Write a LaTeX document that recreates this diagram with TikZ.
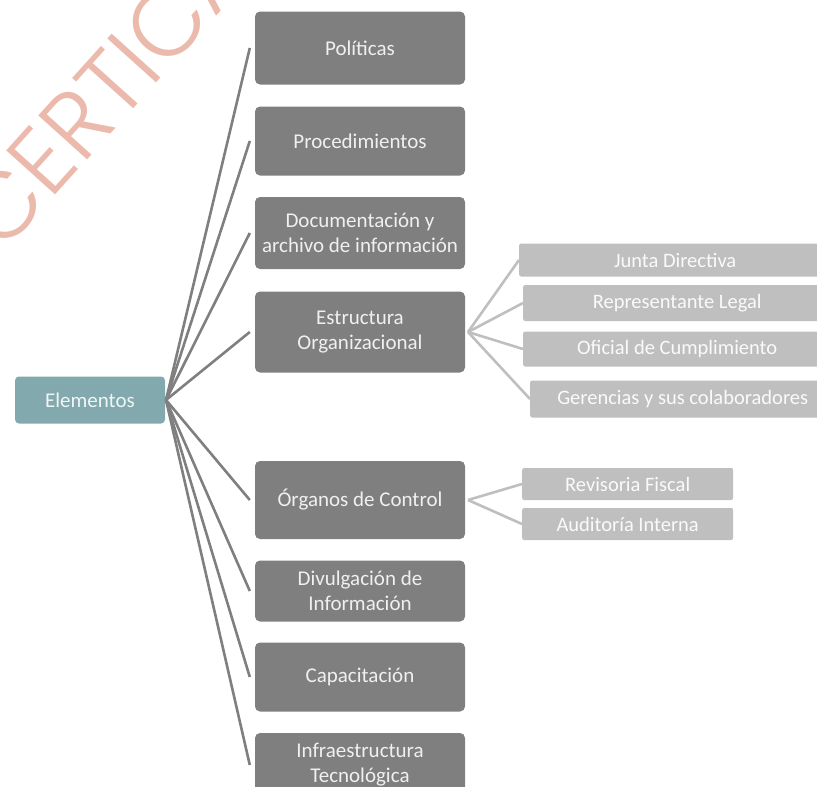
\documentclass[tikz,border=0pt]{standalone}
\usepackage{fontspec}
\setmainfont{Carlito}
\newfontfamily\markfont{Poppins Light}
\usetikzlibrary{positioning}

\definecolor{darkbox}{HTML}{7F7F7F}
\definecolor{lightbox}{HTML}{BFBFBF}
\definecolor{tealbox}{HTML}{82A9AE}
\definecolor{markpink}{HTML}{EBBAAC}

\tikzset{
  elem/.style={fill=darkbox, text=white!88!darkbox, rounded corners=5pt, minimum width=210pt, align=center, font=\fontsize{21}{25}\selectfont, inner sep=0pt},
  sub/.style={fill=lightbox, text=white!92!lightbox, rounded corners=2pt, anchor=west, font=\fontsize{20.5}{24}\selectfont, inner sep=0pt},
  link/.style={draw=darkbox, line width=2.6pt},
  sublink/.style={draw=lightbox, line width=2.6pt}
}

\begin{document}
\begin{tikzpicture}[x=1pt, y=-1pt]
            \useasboundingbox (0,0) rectangle (817,787);
            \node[text=markpink, rotate=48, anchor=base west, inner sep=0pt, font=\markfont\fontsize{94}{94}\selectfont] (mark) at (2,255) {CERTICA};
            \node[fill=tealbox, text=white!88!tealbox, rounded corners=4pt, minimum width=150pt, minimum height=47pt, font=\fontsize{21}{25}\selectfont, inner sep=0pt] (el) at (90,400) {Elementos};
            \node[elem, minimum height=73pt] (pol) at (360,48) {Políticas};
            \node[elem, minimum height=69pt] (pro) at (360,141) {Procedimientos};
            \node[elem, minimum height=72pt] (doc) at (360,233) {Documentación y\\archivo de información};
            \node[elem, minimum height=81pt] (est) at (360,332) {Estructura\\Organizacional};
            \node[elem, minimum height=78pt] (org) at (360,500) {Órganos de Control};
            \node[elem, minimum height=61pt] (div) at (360,591) {Divulgación de\\Información};
            \node[elem, minimum height=69pt] (cap) at (360,677) {Capacitación};
            \node[elem, minimum height=64pt] (inf) at (360,765) {Infraestructura\\Tecnológica};
            \node[sub, minimum width=312pt, minimum height=33pt] (jun) at (519,260) {Junta Directiva};
            \node[sub, minimum width=308pt, minimum height=36pt] (rep) at (523,303) {Representante Legal};
            \node[sub, minimum width=308pt, minimum height=35pt] (ofi) at (523,349) {Oficial de Cumplimiento};
            \node[sub, minimum width=305pt, minimum height=37pt] (ger) at (530,399) {Gerencias y sus colaboradores};
            \node[sub, minimum width=211pt, minimum height=32pt] (rev) at (522,484) {Revisoria Fiscal};
            \node[sub, minimum width=211pt, minimum height=32pt] (aud) at (522,524) {Auditoría Interna};
            \coordinate (hub) at (166,400);
            \foreach \t in {pol,pro,doc,est,org,div,cap,inf}
              \draw[link] (hub) -- ([xshift=-5pt]\t.west);
            \coordinate (ehub) at (468,332);
            \foreach \t in {jun,rep,ofi,ger}
              \draw[sublink] (ehub) -- (\t.west);
            \coordinate (ohub) at (468,500);
            \foreach \t in {rev,aud}
              \draw[sublink] (ohub) -- (\t.west);
\end{tikzpicture}
\end{document}
